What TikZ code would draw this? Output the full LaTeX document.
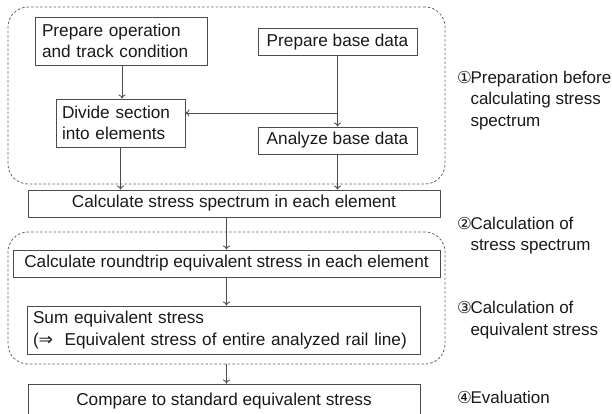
\documentclass[tikz,border=0pt]{standalone}
\usepackage{fontspec}
\setmainfont{Liberation Sans}
\newfontfamily\symfont{DejaVu Sans}
\newcommand\stepno[1]{{\symfont\fontsize{16.5}{21.5}\selectfont #1}\kern-1.5pt}
\usetikzlibrary{arrows.meta}

\begin{document}
\begin{tikzpicture}[x=1pt,y=-1pt,
    every node/.style={font=\fontsize{17.2}{21.5}\selectfont,text=black!90},
    box/.style={draw=black!70,line width=0.9pt,inner sep=0pt,minimum height=27pt},
    grp/.style={draw=black!60,dash pattern=on 2.5pt off 2pt,line width=0.8pt,rounded corners=20pt,inner sep=0pt},
    arr/.style={draw=black!70,line width=0.9pt,-{To[length=4pt,width=7pt]}},
    lbl/.style={anchor=north west,align=left,inner sep=0pt,font=\fontsize{17}{21.5}\selectfont}]
  \useasboundingbox (0,0) rectangle (612,414);
  \clip (0,0) rectangle (612,414);

  % dashed groups
  \node[grp,minimum width=437pt,minimum height=177pt] (grpA) at (226.5,95.5) {};
  \node[grp,minimum width=437pt,minimum height=132pt] (grpC) at (226.5,298) {};

  % boxes
  \node[box,align=left,text width=158pt,inner xsep=7pt,minimum height=48pt] (prepop) at (121,41)
    {Prepare operation\\and track condition};
  \node[box,minimum width=159pt] (prepbase) at (337.5,42) {Prepare base data};
  \node[box,align=left,text width=117pt,inner xsep=6pt,minimum height=48pt] (divide) at (120.5,123)
    {Divide section\\into elements};
  \node[box,minimum width=159pt] (analyze) at (337.5,140.5) {Analyze base data};
  \node[box,minimum width=412pt] (spectrum) at (234,203.5) {Calculate stress spectrum in each element};
  \node[box,minimum width=427pt] (roundtrip) at (226.5,263.5) {Calculate roundtrip equivalent stress in each element};
  \node[box,align=left,text width=381pt,inner xsep=6pt,minimum height=48pt] (sum) at (223.5,330)
    {Sum equivalent stress\\(\symfont ⇒\normalfont\ \ Equivalent stress of entire analyzed rail line)};
  \node[box,minimum width=392pt,minimum height=34pt] (compare) at (224,401) {Compare to standard equivalent stress};

  % connectors
  \coordinate (br) at (337.5,113);
  \draw[arr] (prepop.south -| 122,0) -- (divide.north -| 122,0);
  \draw[arr] (prepbase.south) -- (analyze.north);
  \draw[arr] (br) -- (br -| divide.east);
  \draw[arr] (divide.south) -- (divide.south |- spectrum.north);
  \draw[arr] (analyze.south) -- (analyze.south |- spectrum.north);
  \draw[arr] (roundtrip.north |- spectrum.south) -- (roundtrip.north);
  \draw[arr] (roundtrip.south) -- (roundtrip.south |- sum.north);
  \draw[arr] (grpC.south) -- (grpC.south |- compare.north);

  % step labels
  \node[lbl] (lab1) at (457,70.5) {\stepno{①}Preparation before\\\phantom{\stepno{①}}calculating stress\\\phantom{\stepno{①}}spectrum};
  \node[lbl] (lab2) at (457,216.5) {\stepno{②}Calculation of\\\phantom{\stepno{②}}stress spectrum};
  \node[lbl] (lab3) at (457,301) {\stepno{③}Calculation of\\\phantom{\stepno{③}}equivalent stress};
  \node[lbl] (lab4) at (457,391) {\stepno{④}Evaluation};
\end{tikzpicture}
\end{document}
